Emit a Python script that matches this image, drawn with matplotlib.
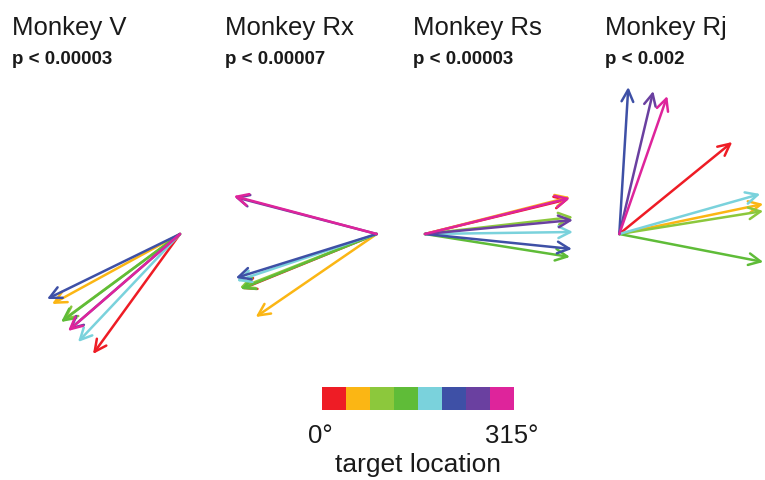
import matplotlib
matplotlib.use("Agg")
import matplotlib.pyplot as plt
import numpy as np
from matplotlib.colors import ListedColormap

plt.rcParams['font.family'] = ['Liberation Sans', 'DejaVu Sans']

W, H = 765, 481

# target locations (deg) and their colours
angles = [0, 45, 90, 135, 180, 225, 270, 315]
colors = ['#ee1c25', '#fbb614', '#8cc83c', '#5fbc38', '#7ad2dc',
          '#3e50a6', '#6a40a0', '#de249b']

monkeys = ['Monkey V', 'Monkey Rx', 'Monkey Rs', 'Monkey Rj']
pvals = ['p < 0.00003', 'p < 0.00007', 'p < 0.00003', 'p < 0.002']

# vector components (dx, dy) per target, order 0..315 deg
v_dx = [-87, -128, -117, -119, -102, -133, -111, -112]
v_dy = [-120, -70, -86, -88, -108, -65, -96, -97]

rx_dx = [-135, -121, -137, -136, -140, -141, -142, -143]
rx_dy = [-55, -83, -54, -55, -47, -44, 37, 38]

rs_dx = [144, 145, 148, 145, 148, 147, 148, 145]
rs_dy = [35, 37, 17, -23, 2, -15, 14, 36]

rj_dx = [113, 144, 144, 144, 141, 9, 34, 48]
rj_dy = [92, 30, 23, -28, 40, 147, 143, 138]

vectors = [(v_dx, v_dy), (rx_dx, rx_dy), (rs_dx, rs_dy), (rj_dx, rj_dy)]

fig = plt.figure(figsize=(W / 100, H / 100), dpi=100)

# panel layout in pixels: (left, width, origin_x); vertical span shared
panels = [(0, 200, 180), (200, 200, 376.7), (400, 195, 425), (595, 170, 619.3)]
top_px, bot_px, orig_y = 60, 380, 235
title_x = [12, 225, 413, 605]

for i, ((left, width, ox), (dx, dy)) in enumerate(zip(panels, vectors)):
    ax = fig.add_axes([left / W, 1 - bot_px / H, width / W, (bot_px - top_px) / H])
    ax.set_xlim(left - ox, left + width - ox)
    ax.set_ylim(-(bot_px - orig_y), orig_y - top_px)
    ax.axis('off')
    for x, y, c in zip(dx, dy, colors):
        ax.annotate('', xy=(x, y), xytext=(0, 0),
                    arrowprops=dict(arrowstyle='->,head_length=0.85,head_width=0.42',
                                    color=c, lw=1.8, shrinkA=0, shrinkB=0))
    fig.text(title_x[i] / W, 1 - 35 / H, monkeys[i], fontsize=18.5,
             va='baseline', ha='left', color='#1a1a1a')
    fig.text(title_x[i] / W, 1 - 64 / H, pvals[i], fontsize=13.5,
             fontweight='bold', va='baseline', ha='left', color='#1a1a1a')

# colour legend
cax = fig.add_axes([322 / W, 1 - 411 / H, 192 / W, 23.5 / H])
cax.imshow(np.arange(len(angles))[None, :], cmap=ListedColormap(colors),
           aspect='auto', interpolation='nearest')
cax.axis('off')

fig.text(320 / W, 1 - 443 / H, f'{angles[0]}°', fontsize=18.5, ha='center',
         va='baseline', color='#1a1a1a')
fig.text(512 / W, 1 - 443 / H, f'{angles[-1]}°', fontsize=18.5, ha='center',
         va='baseline', color='#1a1a1a')
fig.text(418 / W, 1 - 472 / H, 'target location', fontsize=19, ha='center',
         va='baseline', color='#1a1a1a')

fig.savefig('out.png', dpi=100)
